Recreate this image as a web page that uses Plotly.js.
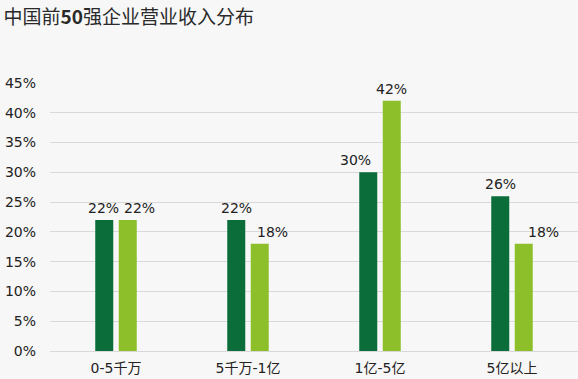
<!DOCTYPE html>
<html><head><meta charset="utf-8">
<script src="https://cdn.plot.ly/plotly-3.0.1.min.js"></script>
<style>body{margin:0;padding:0;background:#f7f7f7}</style>
</head><body>
<div id="chart" style="width:578px;height:379px"></div>
<script>
const categories = ['0-5千万', '5千万-1亿', '1亿-5亿', '5亿以上'];
const seriesA = [0.22, 0.22, 0.30, 0.26];
const seriesB = [0.22, 0.18, 0.42, 0.18];
const labelsA = ['22%', '22%', '30%', '26%'];
const labelsB = ['22%', '18%', '42%', '18%'];

// label placement tweaks (pixels from the category centre), as in the reference
const labelShiftA = [-12.5, -12, -24.5, -12];
const labelShiftB = [23.5, 24, 11, 31.5];

const font = {family: 'DejaVu Sans, Noto Sans CJK SC, sans-serif', size: 14, color: '#222'};
const traces = [
  {type: 'bar', x: categories, y: seriesA, marker: {color: '#0b6e3a'}, hoverinfo: 'skip'},
  {type: 'bar', x: categories, y: seriesB, marker: {color: '#8dbf2a'}, hoverinfo: 'skip'}
];
const annotations = [];
categories.forEach((c, i) => {
  annotations.push({x: c, y: seriesA[i], text: labelsA[i], showarrow: false, xanchor: 'center', yanchor: 'bottom',
                    xshift: labelShiftA[i], yshift: 2, font: font});
  annotations.push({x: c, y: seriesB[i], text: labelsB[i], showarrow: false, xanchor: 'center', yanchor: 'bottom',
                    xshift: labelShiftB[i], yshift: 2, font: font});
});
const layout = {
  width: 578, height: 379,
  paper_bgcolor: '#f7f7f7', plot_bgcolor: '#f7f7f7',
  margin: {l: 50, r: 0, t: 83, b: 28},
  showlegend: false,
  barmode: 'group', bargap: 0.644, bargroupgap: 0.234,
  annotations: annotations,
  title: {text: '中国前<b>50</b>强企业营业收入分布', x: 0.006, xanchor: 'left', y: 0.955, yanchor: 'middle',
          font: {family: 'Noto Sans CJK SC, DejaVu Sans, sans-serif', size: 19, color: '#2a2a2a'}},
  font: font,
  xaxis: {type: 'category', range: [-0.5, 3.5], showgrid: false, zeroline: false, showline: false,
          ticks: '', tickfont: font, ticklabelstandoff: 7},
  yaxis: {range: [0, 0.45], dtick: 0.05, tickformat: '.0%', showgrid: true, gridcolor: '#d9d9d9', gridwidth: 1,
          zeroline: true, zerolinecolor: '#d9d9d9', showline: false, ticks: '',
          tickfont: {family: 'DejaVu Sans, sans-serif', size: 14, color: '#222'}, ticklabelstandoff: 13}
};
Plotly.newPlot('chart', traces, layout, {displayModeBar: false, staticPlot: true});
</script>
</body></html>
